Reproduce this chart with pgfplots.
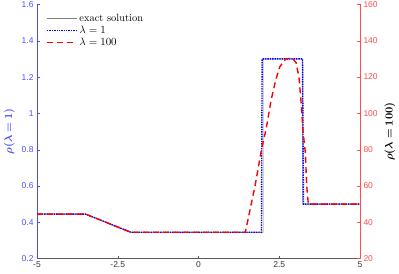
\documentclass[border=0pt]{standalone}
\usepackage{pgfplots}
\pgfplotsset{compat=1.18}
\usepackage{amsmath}
\usepackage{bm}
\usepackage{fontspec}
\newfontfamily\tickfont{Liberation Sans}
\definecolor{axblue}{rgb}{0.3,0.3,1}
\definecolor{axred}{rgb}{1,0.3,0.3}
\begin{document}
\begin{tikzpicture}
\pgfplotsset{
  every axis/.append style={
    scale only axis, width=323bp, height=254bp,
    xmin=-5, xmax=5,
    tick align=inside,
    major tick length=3bp,
    tick label style={font=\tickfont\fontsize{8.5}{9}\selectfont},
    /pgf/number format/assume math mode=true,
  }
}
\begin{axis}[
  name=ax,
  axis x line*=bottom, axis y line*=left,
  ymin=0.2, ymax=1.6,
  ytick={0.2,0.4,...,1.6},
  yticklabels={0.2,0.4,0.6,0.8,1,1.2,1.4,1.6},
  xtick={-5,-2.5,0,2.5,5},
  xticklabels={-5,-2.5,0,2.5,5},
  x axis line style={draw=black!65},
  xtick style={draw=black!65},
  y axis line style={draw=axblue},
  ytick style={draw=axblue},
  yticklabel style={text=axblue},
  xticklabel style={text=black!80},
  ylabel={$\bm{\rho(\lambda=1)}$},
  ylabel style={text=axblue, font=\fontsize{11}{13}\selectfont},
  legend style={draw=none, fill=none, at={(0.025,0.975)}, anchor=north west,
    font=\fontsize{10.5}{12}\selectfont, row sep=-1pt, inner sep=1pt},
  legend cell align=left,
  legend image code/.code={\draw[#1] (0cm,0cm) -- (1.05cm,0cm);},
]
\addplot[black!50, line width=0.7pt] coordinates {
 (-5,0.445) (-3.5,0.445) (-2.1,0.345) (2.0,0.345) (2.0,1.30) (3.23,1.30) (3.23,0.5) (5,0.5)};
\addlegendentry{exact solution}
\addplot[blue, densely dotted, line width=1.4pt] coordinates {
 (-5,0.445) (-3.5,0.445) (-2.1,0.345) (1.95,0.345) (1.97,1.30) (3.22,1.30) (3.25,0.5) (5,0.5)};
\addlegendentry{$\lambda=1$}
\addlegendimage{draw=red, dash pattern=on 6pt off 4pt, line width=1.4pt}
\addlegendentry{$\lambda=100$}
\end{axis}
\begin{axis}[
  axis x line=none, axis y line*=right,
  ymin=20, ymax=160,
  ytick={20,40,...,160},
  y axis line style={draw=axred},
  ytick style={draw=axred},
  yticklabel style={text=axred},
  ylabel={$\bm{\rho(\lambda=100)}$},
  ylabel style={text=black, font=\fontsize{11}{13}\selectfont},
]
\addplot[red, dash pattern=on 6pt off 4pt, line width=1.4pt] coordinates {
 (-5,44.5) (-3.5,44.5) (-2.1,34.5) (1.45,34.5) (1.75,60) (1.95,80) (2.1,92) (2.25,107.5)
 (2.4,119) (2.52,125.8) (2.7,130) (2.9,130.5) (3.02,128) (3.11,120) (3.17,107.5) (3.24,89.4) (3.31,78) (3.35,60) (3.40,50) (5,50)};
\end{axis}
\pgfresetboundingbox
\path (ax.south west) ++(-37bp,-14.7bp) coordinate (bl);
\path (ax.north east) ++(39bp,4.5bp) coordinate (tr);
\path[use as bounding box] (bl) rectangle (tr);
\end{tikzpicture}
\end{document}
